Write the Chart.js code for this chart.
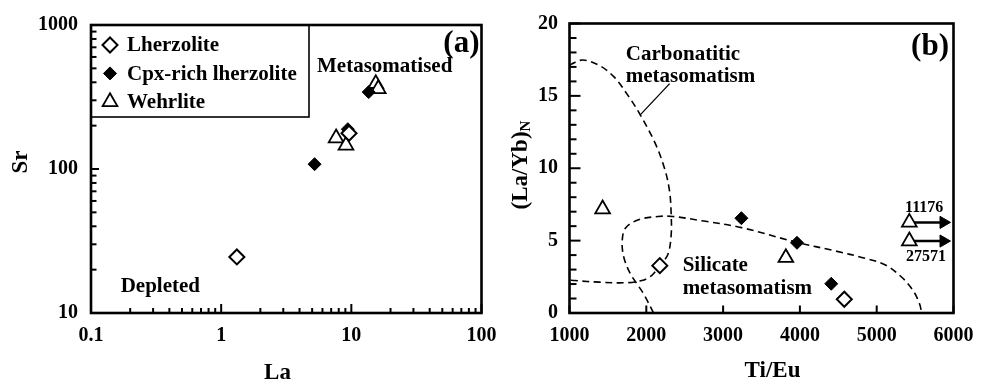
<!DOCTYPE html>
<html><head><meta charset="utf-8">
<script src="https://cdn.jsdelivr.net/npm/chart.js@4.4.0/dist/chart.umd.min.js"></script>
<style>
html,body{margin:0;padding:0;background:#fff;}
#wrap{position:relative;width:984px;height:384px;overflow:hidden;background:#fff;}
#wrap canvas{position:absolute;left:0;top:0;}
</style></head><body>
<div id="wrap"><canvas id="ca" width="984" height="384"></canvas><canvas id="cb" width="984" height="384"></canvas></div>
<script>
// ---------- Panel (a): Sr vs La ----------
const laLherzolite = [1.32, 9.6];
const srLherzolite = [24.5, 177];
const laCpx = [5.22, 9.4, 13.6];
const srCpx = [108, 189, 342];
const laWehrlite = [7.64, 9.1, 15.4, 16.1];
const srWehrlite = [164, 146, 391, 360];
const laTickLabels = [0.1, 1, 10, 100];
const srTickLabels = [10, 100, 1000];

// ---------- Panel (b): (La/Yb)N vs Ti/Eu ----------
const tiEuLherzolite = [2176, 4578];
const laYbLherzolite = [3.27, 0.95];
const tiEuCpx = [3238, 3962, 4408];
const laYbCpx = [6.55, 4.85, 2.02];
const tiEuWehrlite = [1431, 3817, 5425, 5425];
const laYbWehrlite = [7.18, 3.82, 6.26, 4.97];
const offscaleLabels = ['11176', '27571'];   // true Ti/Eu of the two arrowed wehrlites
const offscaleLaYb = [6.26, 4.97];
const offscaleFromTiEu = 5425;
const offscaleArrowTiEu = 5870;
const tiEuTickLabels = [1000, 2000, 3000, 4000, 5000, 6000];
const laYbTickLabels = [0, 5, 10, 15, 20];

// field boundaries
const carbonatiticTiEu = [1000, 1028, 1176, 1389, 1580, 1772, 1921, 2112, 2240, 2304, 2324, 2324, 2282, 2176, 2069, 1941, 1730, 1389, 1070, 1000];
const carbonatiticLaYb = [17.1, 17.21, 17.48, 17.10, 16.31, 14.95, 13.69, 11.77, 9.95, 8.37, 6.78, 5.42, 4.06, 3.27, 2.59, 2.24, 2.09, 2.13, 2.24, 2.27];
const silicateTiEu = [2095, 1963, 1878, 1793, 1708, 1686, 1730, 1899, 2154, 2346, 2750, 3238, 3962, 4450, 4850, 5120, 5330, 5480, 5560, 5585];
const silicateLaYb = [0, 1.34, 2.02, 2.7, 3.83, 4.97, 5.87, 6.44, 6.67, 6.67, 6.35, 5.9, 4.88, 4.3, 3.78, 3.3, 2.45, 1.5, 0.6, 0];
const leaderTiEu = [1921, 2304];
const leaderLaYb = [13.69, 15.85];

const FONT = '"Liberation Serif", "Times New Roman", serif';
const TICK_COLOR = '#000';
const pts = (xs, ys) => xs.map((x, i) => ({x, y: ys[i]}));

function txt(ctx, s, x, y, size, align, baseline) {
  ctx.save();
  ctx.font = 'bold ' + size + 'px ' + FONT;
  ctx.fillStyle = '#000';
  ctx.textAlign = align || 'left';
  ctx.textBaseline = baseline || 'alphabetic';
  ctx.fillText(s, x, y);
  ctx.restore();
}
function rtxt(ctx, s, x, y, size) {
  ctx.save();
  ctx.translate(x, y); ctx.rotate(-Math.PI / 2);
  txt(ctx, s, 0, 0, size, 'center', 'middle');
  ctx.restore();
}
function marker(ctx, ds, x, y) {
  ctx.save();
  ctx.fillStyle = ds.backgroundColor; ctx.strokeStyle = ds.borderColor; ctx.lineWidth = ds.borderWidth;
  Chart.helpers.drawPoint(ctx, {pointStyle: ds.pointStyle, radius: ds.pointRadius, rotation: 0, borderWidth: ds.borderWidth}, x, y);
  ctx.restore();
}
function logTicks(labels) {
  const out = [];
  labels.forEach((v, i) => {
    out.push({value: v, major: true});
    if (i < labels.length - 1) for (let k = 2; k <= 9; k++) out.push({value: v * k, major: false});
  });
  return out;
}
function linTicks(labels, step) {
  const out = [];
  const lo = labels[0], hi = labels[labels.length - 1];
  for (let v = lo; v <= hi + 1e-9; v += step) out.push({value: v, major: labels.includes(v)});
  return out;
}
function drawFrame(chart, xTicks, yTicks, len) {
  const ctx = chart.ctx, a = chart.chartArea;
  const xs = chart.scales.x, ys = chart.scales.y;
  ctx.save();
  ctx.setLineDash([]);
  ctx.strokeStyle = TICK_COLOR;
  ctx.lineWidth = 2;
  xTicks.forEach(t => {
    const p = xs.getPixelForValue(t.value); const l = t.major ? len.xMajor : len.xMinor;
    if (l > 0) { ctx.beginPath(); ctx.moveTo(p, a.bottom); ctx.lineTo(p, a.bottom - l); ctx.stroke(); }
  });
  yTicks.forEach(t => {
    const p = ys.getPixelForValue(t.value); const l = t.major ? len.yMajor : len.yMinor;
    if (l > 0) { ctx.beginPath(); ctx.moveTo(a.left, p); ctx.lineTo(a.left + l, p); ctx.stroke(); }
  });
  ctx.strokeStyle = '#000';
  ctx.lineWidth = 2.6;
  ctx.strokeRect(a.left, a.top, a.right - a.left, a.bottom - a.top);
  ctx.restore();
}
const tickFont = {family: FONT, size: 20, weight: 'bold'};
const gridOff = {display: false, drawTicks: false, tickLength: 0};

const styleL = {pointStyle: 'rectRot', pointRadius: 7.5, borderWidth: 2, borderColor: '#000', backgroundColor: '#fff'};
const styleC = {pointStyle: 'rectRot', pointRadius: 6.5, borderWidth: 1, borderColor: '#000', backgroundColor: '#000'};
const styleW = {pointStyle: 'triangle', pointRadius: 8.5, borderWidth: 1.8, borderColor: '#000', backgroundColor: '#fff'};

// ---------- Chart (a) ----------
const decoA = {
  id: 'decoA',
  afterDraw(chart) {
    const ctx = chart.ctx, a = chart.chartArea, x = chart.scales.x, y = chart.scales.y;
    drawFrame(chart, logTicks(laTickLabels), logTicks(srTickLabels), {xMajor: 9, xMinor: 5, yMajor: 8, yMinor: 5.5});
    ctx.save(); ctx.lineWidth = 1.6; ctx.strokeStyle = '#000';
    ctx.strokeRect(a.left, a.top, 218, 92); ctx.restore();
    chart.data.datasets.forEach((ds, i) => {
      const my = a.top + 20 + i * 28.4;
      marker(ctx, ds, a.left + 19, my);
      txt(ctx, ds.label, a.left + 36, my + 6.3, 21);
    });
    txt(ctx, 'Metasomatised', x.getPixelForValue(5.45), y.getPixelForValue(468), 21);
    txt(ctx, 'Depleted', x.getPixelForValue(0.169), y.getPixelForValue(14.1), 21);
    txt(ctx, '(a)', a.right - 2, a.top + 27, 31, 'right');
    rtxt(ctx, 'Sr', 21, 162, 23);
    txt(ctx, 'La', 277.5, 373.5, 23, 'center', 'middle');
  }
};
new Chart(document.getElementById('ca'), {
  type: 'scatter',
  data: {datasets: [
    Object.assign({label: 'Lherzolite', data: pts(laLherzolite, srLherzolite)}, styleL),
    Object.assign({label: 'Cpx-rich lherzolite', data: pts(laCpx, srCpx)}, styleC),
    Object.assign({label: 'Wehrlite', data: pts(laWehrlite, srWehrlite)}, styleW)
  ]},
  options: {
    responsive: false, animation: false, events: [],
    layout: {padding: {left: 0, top: 20, right: 502.5, bottom: 0}},
    plugins: {legend: {display: false}, tooltip: {enabled: false}},
    scales: {
      x: {type: 'logarithmic', position: 'bottom', min: 0.1, max: 100,
        grid: gridOff, border: {display: false},
        afterBuildTicks: s => { s.ticks = logTicks(laTickLabels); },
        afterFit: s => { s.height = 71; },
        ticks: {autoSkip: false, maxRotation: 0, minRotation: 0, padding: 10.5, color: '#000', font: tickFont,
          callback: v => laTickLabels.includes(v) ? String(v) : ''}},
      y: {type: 'logarithmic', position: 'left', min: 10, max: 1000,
        grid: gridOff, border: {display: false},
        afterBuildTicks: s => { s.ticks = logTicks(srTickLabels); },
        afterFit: s => { s.width = 91; },
        ticks: {autoSkip: false, padding: 13, color: '#000', font: tickFont,
          callback: v => srTickLabels.includes(v) ? String(v) : ''}}
    }
  },
  plugins: [decoA]
});

// ---------- Chart (b) ----------
const decoB = {
  id: 'decoB',
  afterDraw(chart) {
    const ctx = chart.ctx, a = chart.chartArea, x = chart.scales.x, y = chart.scales.y;
    drawFrame(chart, linTicks(tiEuTickLabels, 1000), linTicks(laYbTickLabels, 1), {xMajor: 7.5, xMinor: 0, yMajor: 11, yMinor: 7});
    txt(ctx, 'Carbonatitic', x.getPixelForValue(1733), y.getPixelForValue(17.48), 21);
    txt(ctx, 'metasomatism', x.getPixelForValue(1733), y.getPixelForValue(15.99), 21);
    txt(ctx, 'Silicate', x.getPixelForValue(2473), y.getPixelForValue(2.88), 21);
    txt(ctx, 'metasomatism', x.getPixelForValue(2473), y.getPixelForValue(1.34), 21);
    txt(ctx, offscaleLabels[0], x.getPixelForValue(5369), y.getPixelForValue(7.01), 16);
    txt(ctx, offscaleLabels[1], x.getPixelForValue(5381), y.getPixelForValue(3.61), 16);
    txt(ctx, '(b)', a.right - 4.5, a.top + 31, 31, 'right');
    txt(ctx, 'Ti/Eu', 772.5, 371, 23, 'center', 'middle');
    ctx.save();
    ctx.translate(521, 165); ctx.rotate(-Math.PI / 2);
    ctx.font = 'bold 23px ' + FONT;
    const w1 = ctx.measureText('(La/Yb)').width;
    ctx.font = 'bold 15px ' + FONT;
    const w2 = ctx.measureText('N').width;
    const x0 = -(w1 + w2) / 2;
    txt(ctx, '(La/Yb)', x0, 6, 23, 'left', 'alphabetic');
    txt(ctx, 'N', x0 + w1, 9, 15, 'left', 'alphabetic');
    ctx.restore();
  }
};
const lineBase = {showLine: true, pointRadius: 0, borderColor: '#000', backgroundColor: '#000', fill: false};
new Chart(document.getElementById('cb'), {
  type: 'scatter',
  data: {datasets: [
    Object.assign({label: 'Lherzolite', data: pts(tiEuLherzolite, laYbLherzolite), order: 0}, styleL),
    Object.assign({label: 'Cpx-rich lherzolite', data: pts(tiEuCpx, laYbCpx), order: 0}, styleC),
    Object.assign({label: 'Wehrlite', data: pts(tiEuWehrlite, laYbWehrlite), order: 0}, styleW),
    Object.assign({}, lineBase, {label: 'Carbonatitic', data: pts(carbonatiticTiEu, carbonatiticLaYb), borderWidth: 1.6, borderDash: [7, 4.5], tension: 0.35, order: 5}),
    Object.assign({}, lineBase, {label: 'Silicate', data: pts(silicateTiEu, silicateLaYb), borderWidth: 1.6, borderDash: [7, 4.5], tension: 0.35, order: 5}),
    Object.assign({}, lineBase, {label: 'leader', data: pts(leaderTiEu, leaderLaYb), borderWidth: 1.3, tension: 0, order: 5}),
    ...offscaleLaYb.map((v, i) => Object.assign({}, lineBase, {
      label: 'arrow' + i,
      data: [{x: offscaleFromTiEu, y: v}, {x: offscaleArrowTiEu, y: v}],
      borderWidth: 2.5, tension: 0, order: 4,
      pointRadius: [0, 7], pointStyle: 'triangle', pointRotation: 90, pointBorderWidth: 1
    }))
  ]},
  options: {
    responsive: false, animation: false, events: [],
    layout: {padding: {left: 490, top: 19, right: 22.5, bottom: 0}},
    plugins: {legend: {display: false}, tooltip: {enabled: false}},
    scales: {
      x: {type: 'linear', position: 'bottom', min: 1000, max: 6000,
        grid: gridOff, border: {display: false},
        afterBuildTicks: s => { s.ticks = linTicks(tiEuTickLabels, 1000); },
        afterFit: s => { s.height = 71; },
        ticks: {autoSkip: false, maxRotation: 0, minRotation: 0, padding: 10.5, color: '#000', font: tickFont,
          callback: v => String(v)}},
      y: {type: 'linear', position: 'left', min: 0, max: 20,
        grid: gridOff, border: {display: false},
        afterBuildTicks: s => { s.ticks = linTicks(laYbTickLabels, 1); },
        afterFit: s => { s.width = 79.5; },
        ticks: {autoSkip: false, padding: 11.5, color: '#000', font: tickFont,
          callback: v => laYbTickLabels.includes(v) ? String(v) : ''}}
    }
  },
  plugins: [decoB]
});
</script>
</body></html>
